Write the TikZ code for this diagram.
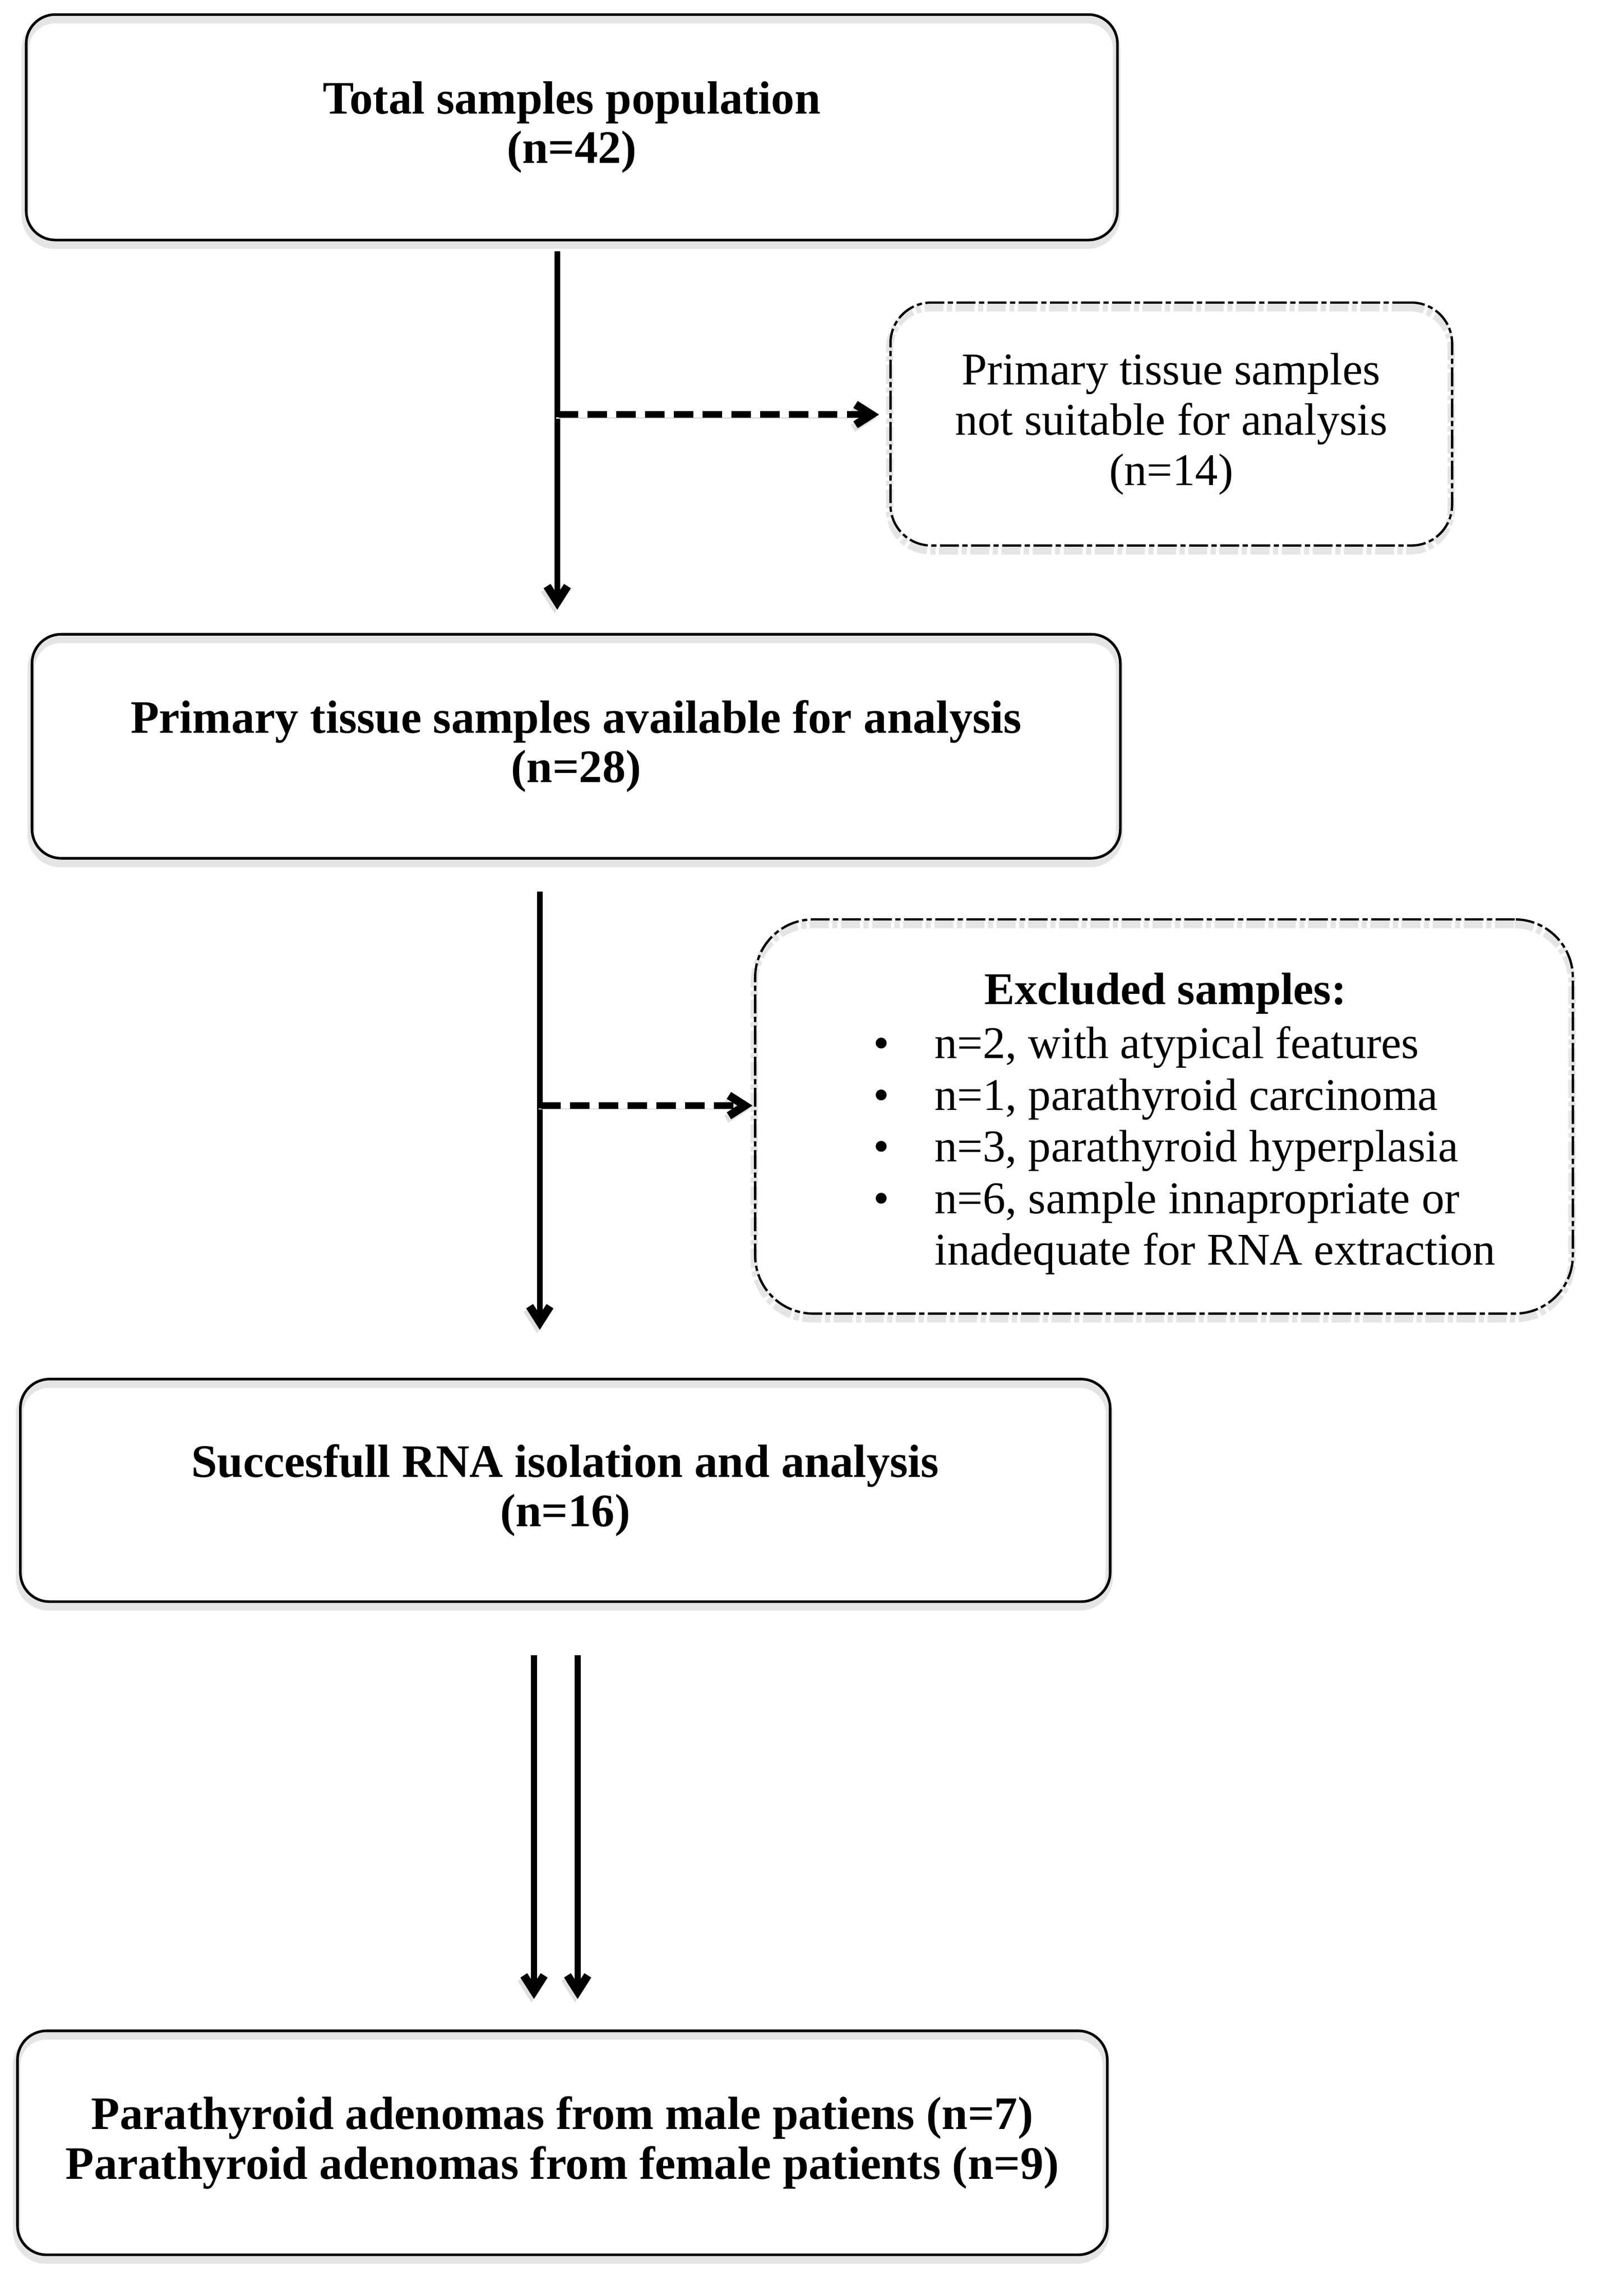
\documentclass[tikz,border=0pt]{standalone}
\usepackage{fontspec}
\setmainfont{Liberation Serif}
\usetikzlibrary{arrows.meta,shadows}
\newcommand{\blt}{\textbullet}
\tikzset{
  shd/.style={general shadow={draw=black!10, line width=2.5pt, shadow xshift=-0.3pt, shadow yshift=-1.8pt}},
  ashd/.style={general shadow={draw=black!12, shadow xshift=-0.9pt, shadow yshift=-1.2pt}},
  sbox/.style={draw, line width=0.9pt, rounded corners=10pt, align=center, inner sep=0pt,
    font=\bfseries\fontsize{16}{17}\selectfont, shd},
  dbox/.style={draw, line width=0.8pt, dash pattern=on 6.5pt off 1.2pt on 1.8pt off 1.2pt,
    align=center, inner sep=0pt, font=\fontsize{15.6}{17.25}\selectfont, shd},
  arr/.style={line width=2pt, ashd, -{Straight Barb[length=5.5pt,width=7pt,line width=2.8pt]}},
  darr/.style={line width=2.3pt, ashd, dash pattern=on 6.7pt off 3.2pt,
    -{Straight Barb[length=5.5pt,width=7pt,line width=2.8pt]}},
  txt/.style={inner sep=0pt, font=\fontsize{15.6}{17.75}\selectfont},
}
\begin{document}
\begin{tikzpicture}[x=0.5pt,y=-0.5pt]
\useasboundingbox (0,0) rectangle (1100,1578.3);
% boxes
\node[sbox, minimum width=375pt, minimum height=77.5pt] (b1) at (393,87.5) {Total samples population\\(n=42)};
\node[dbox, rounded corners=14pt, minimum width=193pt, minimum height=83.5pt] (b2) at (805,291.5) {Primary tissue samples\\not suitable for analysis\\(n=14)};
\node[sbox, minimum width=374pt, minimum height=77pt] (b3) at (396,513) {Primary tissue samples available for analysis\\(n=28)};
\node[dbox, rounded corners=20pt, minimum width=281pt, minimum height=135.5pt] (b4) at (800,767.5) {};
\node[txt, font=\bfseries\fontsize{15.6}{17.75}\selectfont] (b4t) at (801,683) {Excluded samples:};
\node[txt, anchor=west, align=left] (b4l) at (600,791) {%
\makebox[21pt][l]{\blt}n=2, with atypical features\\
\makebox[21pt][l]{\blt}n=1, parathyroid carcinoma\\
\makebox[21pt][l]{\blt}n=3, parathyroid hyperplasia\\
\makebox[21pt][l]{\blt}n=6, sample innapropriate or\\
\hspace*{21pt}inadequate for RNA extraction};
\node[sbox, minimum width=374.5pt, minimum height=76.5pt] (b5) at (388.5,1024.5) {Succesfull RNA isolation and analysis\\(n=16)};
\node[sbox, minimum width=374.5pt, minimum height=77pt] (b6) at (386.5,1473) {Parathyroid adenomas from male patiens (n=7)\\Parathyroid adenomas from female patients (n=9)};
% connector anchors
\coordinate (x1) at (383,0);
\coordinate (x2) at (371,0);
\coordinate (x3) at (367,0);
\coordinate (x4) at (397,0);
\coordinate (j1) at (384,285);
\coordinate (j2) at (372,760);
% connectors
\draw[arr, shorten <=3.5pt, shorten >=8pt] (b1.south -| x1) -- (b3.north -| x1);
\draw[darr, shorten >=3.5pt] (j1) -- (j1 -| b2.west);
\draw[arr, shorten <=11pt, shorten >=16.5pt] (b3.south -| x2) -- (b5.north -| x2);
\draw[darr, shorten >=0.5pt] (j2) -- (j2 -| b4.west);
\draw[arr, shorten <=18pt, shorten >=10.5pt] (b5.south -| x3) -- (b6.north -| x3);
\draw[arr, shorten <=18pt, shorten >=10.5pt] (b5.south -| x4) -- (b6.north -| x4);
\end{tikzpicture}
\end{document}
